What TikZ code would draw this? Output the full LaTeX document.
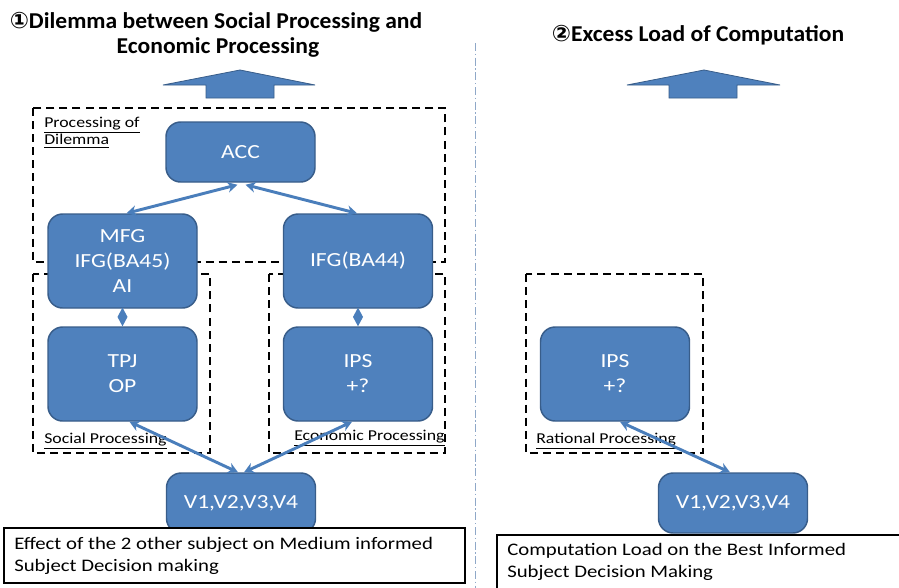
\documentclass[tikz,border=0pt]{standalone}
\usepackage{fontspec}
\setmainfont[FakeStretch=1.18]{Carlito}
\newfontfamily\titlefamily[FakeStretch=1.04]{Carlito}
\newfontfamily\symfont{DejaVu Sans}
\usetikzlibrary{arrows.meta,calc}
\definecolor{bluefill}{HTML}{4F81BD}
\definecolor{blueedge}{HTML}{385D8A}
\definecolor{linkblue}{HTML}{4A7EBB}
\definecolor{sepline}{HTML}{8FA8C8}
\begin{document}
\begin{tikzpicture}[x=0.75pt,y=-0.75pt,
  bluebox/.style={draw=blueedge, fill=bluefill, line width=1.1pt, rounded corners=11pt,
    text=white, font=\fontsize{15}{18.75}\selectfont, align=center,
    minimum width=111.75pt, inner sep=0pt},
  tallbox/.style={bluebox, minimum height=70.5pt},
  shortbox/.style={bluebox, minimum height=45pt},
  dashbox/.style={draw=black, line width=1.8pt, dash pattern=on 6pt off 3.8pt},
  link/.style={draw=linkblue, line width=2.2pt,
    {Stealth[length=7.5pt,width=8pt]}-{Stealth[length=7.5pt,width=8pt]}},
  diamondlink/.style={draw=linkblue, line width=1pt, -{Diamond[length=14pt,width=7.5pt]}},
  uparrow/.style={fill=bluefill, draw=blueedge, line width=0.6pt},
  lbl/.style={font=\fontsize{11.3}{13}\selectfont, inner sep=0pt, align=left},
  titlefont/.style={font=\titlefamily\fontsize{17}{18.75}\selectfont\bfseries, inner sep=0pt},
  textbox/.style={draw=black, line width=1.5pt, fill=white},
  boxtext/.style={font=\fontsize{13.2}{16.5}\selectfont, inner sep=0pt, align=left, anchor=west}
]
\clip (0,0) rectangle (899,587);
\fill[white] (0,0) rectangle (899,587);

% separator
\draw[sepline, line width=0.6pt, dash pattern=on 6pt off 2pt on 1pt off 2pt] (475,43) coordinate (septop) -- (475,590) coordinate (sepbot);

% titles
\node[titlefont, anchor=center] (t1a) at (216,22) {{\symfont ①}Dilemma between Social Processing and};
\node[titlefont, anchor=center] (t1b) at (218,47) {Economic Processing};
\node[titlefont, anchor=center] (t2) at (698,35) {{\symfont ②}Excess Load of Computation};

% up arrows
\draw[uparrow] (240,70) -- (315,85) -- (274,85) -- (274,98) -- (206,98) -- (206,85) -- (163,85) -- cycle;
\draw[uparrow] (704,70) -- (780,85) -- (737,85) -- (737,98) -- (669,98) -- (669,85) -- (627,85) -- cycle;

% dashed groups
\draw[dashbox] (33,108) rectangle (445,262);
\draw[dashbox] (33,274) rectangle (210,453);
\draw[dashbox] (269,274) rectangle (445,453);
\draw[dashbox] (526,274) rectangle (703,453);

% group labels
\node[lbl, anchor=north west] (lblDil) at (44,117) {\underline{Processing of}\\\underline{Dilemma}};
\node[lbl, anchor=west] (lblSoc) at (44,441) {\underline{Social Processing}};
\node[lbl, anchor=west] (lblEco) at (294,438) {\underline{Economic Processing}};
\node[lbl, anchor=west] (lblRat) at (536,441) {\underline{Rational Processing}};

% blue nodes
\node[shortbox] (ACC) at (240.5,152) {ACC};
\node[tallbox] (MFG) at (122.5,261) {MFG\\IFG(BA45)\\AI};
\node[tallbox] (IFG) at (358,261) {IFG(BA44)};
\node[tallbox] (TPJ) at (122.5,374) {TPJ\\OP};
\node[tallbox] (IPS) at (358,374) {IPS\\+?};
\node[shortbox] (V) at (241,503) {V1,V2,V3,V4};
\node[tallbox] (IPSR) at (615,374) {IPS\\+?};
\node[shortbox] (VR) at (733,503) {V1,V2,V3,V4};

% connectors
\draw[link] ($(ACC.south)+(-3,2)$) -- ($(MFG.north)+(4,0)$);
\draw[link] ($(ACC.south)+(5,2)$) -- ($(IFG.north)+(-1,0)$);
\draw[diamondlink] (MFG.south) -- (TPJ.north);
\draw[diamondlink] (IFG.south) -- (IPS.north);
\draw[link] ($(TPJ.south)+(7,0)$) -- ($(V.north)+(-3,0)$);
\draw[link] ($(IPS.south)+(-6,0)$) -- ($(V.north)+(3,0)$);
\draw[link] ($(IPSR.south)+(5,0)$) -- ($(VR.north)+(-3,0)$);

% bottom text boxes
\draw[textbox] (4,528) coordinate (tbLnw) rectangle (465,583) coordinate (tbLse);
\node[boxtext] (txtL) at (14,556) {Effect of the 2 other subject on Medium informed\\Subject Decision making};
\draw[textbox] (497,535) coordinate (tbRnw) rectangle (910,600) coordinate (tbRse);
\node[boxtext] (txtR) at (507,562) {Computation Load on the Best Informed\\Subject Decision Making};
\end{tikzpicture}
\end{document}
